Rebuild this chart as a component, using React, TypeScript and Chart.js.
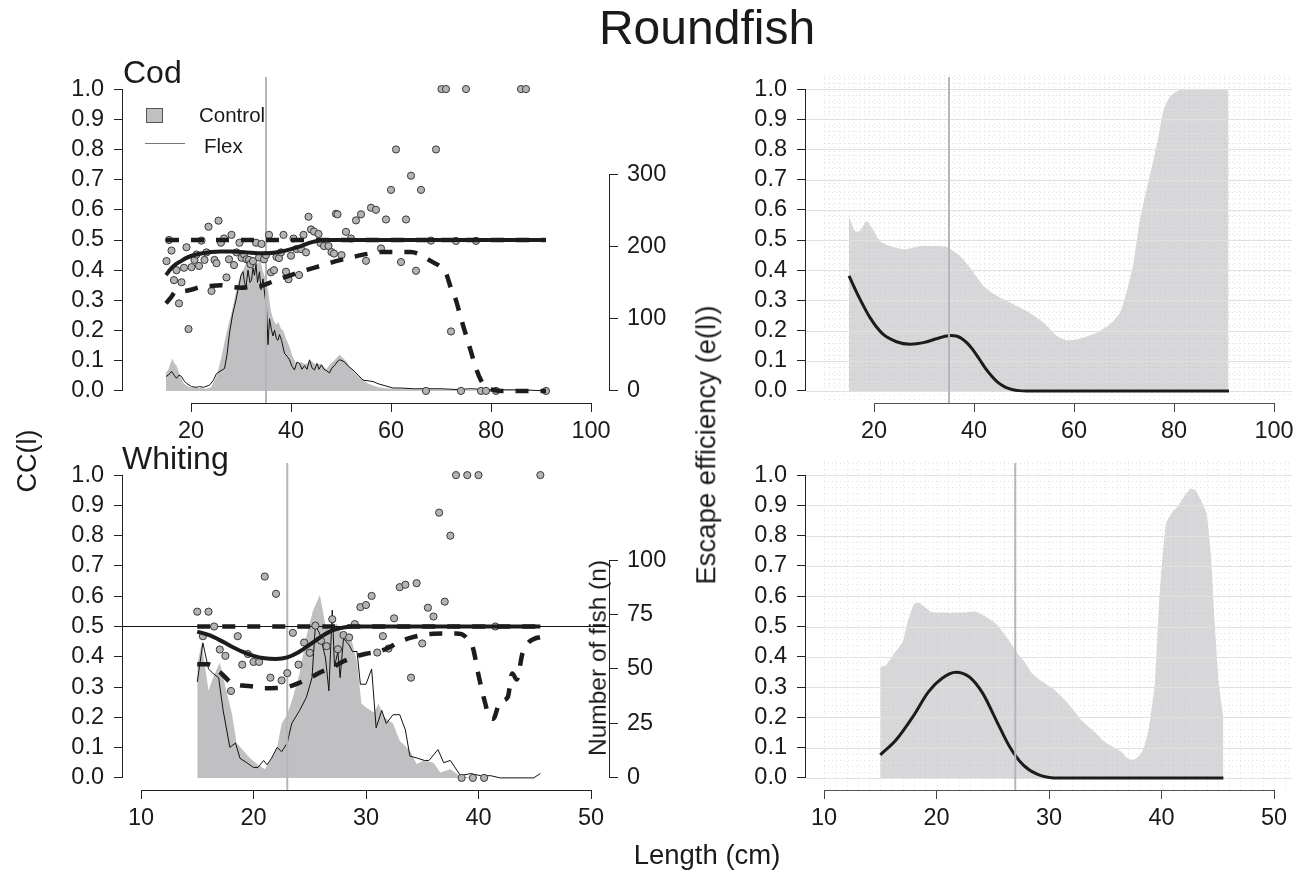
import React, { useEffect, useRef } from "react";
import { Chart, registerables } from "chart.js";

Chart.register(...registerables);

const W = 1303;
const H = 874;
const FONT = '"Liberation Sans", Arial, Helvetica, sans-serif';

// ---------- ticks & ranges ----------
const ccTicks = [0, 0.1, 0.2, 0.3, 0.4, 0.5, 0.6, 0.7, 0.8, 0.9, 1.0];
const codLenTicks = [20, 40, 60, 80, 100];
const whitingLenTicks = [10, 20, 30, 40, 50];
const codCountTicks = [0, 100, 200, 300];
const whitingCountTicks = [0, 25, 50, 75, 100];
const ccRange = [-0.04, 1.04];
const codLenRange = [6.4, 103.6];
const whitingLenRange = [8.4, 51.6];
const codCountPerCC = 417.5;
const whitingCountPerCC = 139;

// reference lines
const codRefLenLeft = 35;
const codRefLenRight = 35;
const whitingRefLenLeft = 23;
const whitingRefLenRight = 27;
const whitingRefCC = 0.5;

// ---------- Cod: numbers of fish ----------
const codControlLen = [15.0, 15.5, 16.0, 16.3, 16.7, 17.1, 17.6, 18.1, 18.6, 19.2, 19.8, 21, 22, 23, 24, 25.1, 26, 27.1, 27.8, 28.4, 28.9, 29.4, 29.9, 30.4, 30.9, 31.4, 31.9, 32.4, 32.9, 33.4, 33.9, 34.4, 34.9, 35.5, 36.0, 36.5, 37, 37.5, 38.0, 38.4, 39.0, 39.7, 40.3, 41, 42, 43, 44, 45, 46, 47, 48, 49, 49.7, 50.5, 51.2, 51.7, 52.5, 53.5, 54.4, 55.5, 56.5, 57.5, 58.4, 60, 65, 70, 75, 80, 85, 91];
const codControlN = [25, 30, 40, 45, 38, 35, 25, 17, 10, 7, 5, 4, 4, 3, 5, 20, 45, 80, 100, 117, 135, 149, 160, 167, 175, 186, 170, 172, 182, 176, 181, 165, 155, 135, 110, 98, 92, 95, 86, 84, 72, 61, 48, 38, 40, 37, 42, 36, 38, 30, 38, 45, 50, 45, 40, 34, 27, 20, 15, 10, 7, 5, 4, 3, 2, 2, 1, 1, 0.5, 0.5];
const codFlexLen = [15.0, 15.5, 16.1, 16.6, 17.1, 17.6, 18.1, 18.6, 19.1, 20.1, 21, 21.7, 22.5, 23.7, 24.5, 25.1, 26, 26.7, 27.2, 27.7, 28.3, 29.0, 29.4, 29.7, 30.0, 30.4, 30.7, 31.0, 31.4, 31.8, 32.1, 32.4, 32.7, 33.0, 33.3, 33.7, 34.0, 34.4, 34.8, 35.1, 35.4, 35.7, 36.1, 36.4, 36.7, 37.1, 37.4, 37.7, 38.1, 38.7, 39.2, 39.7, 40.2, 40.7, 41.2, 41.7, 42.2, 42.7, 43.2, 43.7, 44.2, 44.7, 45.2, 45.6, 46.1, 46.6, 47.1, 47.7, 48.2, 48.7, 49.2, 49.7, 50.2, 50.7, 51.5, 52.4, 53.4, 54.4, 55.4, 56.4, 57.4, 58.4, 59.4, 60.4, 62, 64.4, 67, 70, 73, 76, 79, 82, 85, 88, 91];
const codFlexN = [20, 22, 27, 22, 17.5, 22, 20, 14, 10.6, 6, 5, 6, 5, 8, 15, 24, 28, 31, 50, 80, 105, 126, 140, 149, 160, 165, 150, 144, 167, 150, 153, 170, 160, 175, 150, 165, 140, 155, 130, 117, 64, 100, 84, 76, 84, 72, 70, 78, 70, 52, 48, 43, 34, 29, 40, 38, 30, 35, 30, 43, 32, 29, 38, 30, 36, 30, 28, 25, 32, 35, 40, 43, 42, 40, 34, 29, 22, 15, 14, 13, 10, 8, 6, 4, 4, 3, 3, 3, 2, 3, 2, 1.5, 1.5, 1, 0];

// ---------- Cod: catch comparison ----------
const codObsLen = [15.1, 15.6, 16.1, 16.6, 17.1, 17.6, 18.1, 18.6, 19.1, 19.5, 20.1, 20.7, 21.1, 21.6, 22.1, 22.7, 23.1, 23.5, 24.1, 24.7, 25.1, 25.5, 26.0, 26.6, 27.1, 27.6, 28.1, 28.6, 29.1, 29.7, 30.1, 30.6, 31.1, 31.6, 31.9, 32.4, 33.0, 33.6, 34.1, 34.6, 35.0, 35.6, 36.0, 36.6, 37.1, 37.6, 38.0, 38.5, 39.0, 39.5, 40.0, 40.5, 41.1, 41.6, 42.0, 42.5, 43.0, 43.5, 44.0, 44.6, 45.5, 45.9, 46.6, 47.5, 48.1, 48.6, 49.0, 49.3, 50.1, 51.0, 52.0, 53.0, 54.0, 55.0, 56.0, 57.0, 58.0, 59.0, 60.0, 61.0, 62.0, 63.0, 64.0, 65.0, 66.0, 67.0, 68.0, 69.0, 70.1, 71.0, 72.0, 73.0, 74.0, 75.0, 77.0, 78.0, 79.0, 81.0, 86.0, 87.0, 91.0];
const codObsCC = [0.43, 0.5, 0.465, 0.367, 0.4, 0.29, 0.36, 0.408, 0.476, 0.205, 0.41, 0.434, 0.452, 0.414, 0.498, 0.434, 0.459, 0.544, 0.331, 0.434, 0.423, 0.564, 0.491, 0.505, 0.376, 0.436, 0.517, 0.417, 0.459, 0.491, 0.441, 0.452, 0.436, 0.434, 0.42, 0.43, 0.491, 0.442, 0.487, 0.436, 0.45, 0.517, 0.393, 0.4, 0.444, 0.44, 0.459, 0.517, 0.395, 0.37, 0.448, 0.505, 0.47, 0.384, 0.47, 0.517, 0.459, 0.577, 0.535, 0.528, 0.52, 0.49, 0.48, 0.48, 0.46, 0.455, 0.587, 0.585, 0.45, 0.527, 0.505, 0.565, 0.585, 0.431, 0.607, 0.6, 0.472, 0.568, 0.666, 0.8, 0.427, 0.568, 0.713, 0.398, 0.666, 0, 0.498, 0.8, 1, 1, 0.197, 0.497, 0, 1, 0.497, 0, 0, 0, 1, 1, 0];
const codFitLen = [15, 16, 17, 18, 19, 20, 22, 24, 26, 28, 30, 32, 34, 36, 38, 40, 42, 44, 46, 48, 50, 60, 70, 80, 91];
const codFitCC = [0.384, 0.405, 0.42, 0.43, 0.44, 0.447, 0.455, 0.46, 0.462, 0.462, 0.46, 0.458, 0.456, 0.457, 0.462, 0.47, 0.48, 0.492, 0.499, 0.5, 0.5, 0.5, 0.5, 0.5, 0.5];
const codUpperLen = [15, 91];
const codUpperCC = [0.5, 0.5];
const codLowerLen = [15, 16, 17, 18, 20, 22, 24, 26, 28, 30, 32, 34, 36, 38, 40, 42, 44, 46, 48, 50, 52, 54, 56, 58, 60, 62, 64, 66, 68, 70, 71, 72, 73, 74, 75, 76, 77, 78, 79, 80, 82, 91];
const codLowerCC = [0.29, 0.31, 0.33, 0.33, 0.335, 0.345, 0.348, 0.35, 0.345, 0.342, 0.345, 0.348, 0.36, 0.372, 0.384, 0.395, 0.405, 0.415, 0.425, 0.434, 0.442, 0.45, 0.456, 0.46, 0.46, 0.46, 0.46, 0.45, 0.43, 0.41, 0.39, 0.34, 0.3, 0.24, 0.185, 0.13, 0.075, 0.035, 0.012, 0.005, 0, 0];

// ---------- Cod: escape efficiency ----------
const codEffBandLen = [15.0, 16.2, 17.2, 18.5, 19.8, 21.2, 23.2, 26.2, 29.2, 31.9, 34.5, 37.2, 39.2, 41.9, 44.6, 47.2, 50.5, 53.9, 56.5, 58.5, 60.5, 61.9, 64.5, 67.2, 69.2, 70.5, 71.9, 73.2, 74.5, 75.9, 76.9, 77.9, 79.2, 80.9, 82.5, 90.9];
const codEffBandUpper = [0.579, 0.529, 0.53, 0.562, 0.535, 0.496, 0.48, 0.469, 0.48, 0.48, 0.477, 0.447, 0.408, 0.348, 0.315, 0.293, 0.265, 0.227, 0.183, 0.168, 0.17, 0.177, 0.193, 0.221, 0.26, 0.326, 0.425, 0.568, 0.667, 0.766, 0.843, 0.93, 0.975, 0.995, 1.0, 1.0];
const codEffLen = [15, 17.2, 19.2, 21.8, 24.5, 27.2, 29.9, 32.5, 34.2, 35.4, 36.6, 37.6, 38.6, 39.6, 40.6, 41.6, 42.6, 43.6, 44.6, 45.6, 46.6, 47.6, 49, 50.5, 60, 70, 80, 91];
const codEff = [0.381, 0.304, 0.243, 0.188, 0.163, 0.155, 0.16, 0.173, 0.181, 0.184, 0.181, 0.173, 0.159, 0.14, 0.117, 0.092, 0.068, 0.048, 0.031, 0.019, 0.01, 0.005, 0.001, 0, 0, 0, 0, 0];

// ---------- Whiting: numbers of fish ----------
const whitingControlLen = [15.0, 15.4, 16.0, 16.4, 17.0, 17.5, 18.1, 18.5, 19.0, 19.7, 20.4, 21.0, 21.5, 22.1, 22.5, 23.0, 23.5, 24.1, 24.7, 25.3, 25.9, 26.4, 27.0, 27.4, 28.0, 28.6, 29.2, 29.6, 30.1, 30.7, 31.1, 31.6, 32.4, 33.0, 33.9, 34.5, 35.1, 36.0, 36.6, 37.5, 38.4, 39.5, 40.3];
const whitingControlN = [52, 62, 40, 46, 53, 42, 29, 16, 13, 9, 6, 4, 8, 14, 25, 29, 37, 48, 65, 77, 84, 70, 66, 71, 64, 66, 53, 34, 32, 30, 34, 28, 25, 17, 12.5, 6.4, 8, 7, 2.5, 4, 0.5, 0.3, 0];
const whitingFlexLen = [15.0, 15.5, 16.0, 16.4, 16.9, 17.3, 17.9, 18.4, 18.8, 19.4, 20.0, 20.4, 20.9, 21.2, 21.6, 22.1, 22.5, 23.0, 23.4, 24.1, 24.7, 25.2, 25.5, 25.9, 26.4, 26.7, 27.0, 27.2, 27.5, 27.7, 28.0, 28.5, 28.8, 29.2, 29.5, 30.0, 30.5, 30.9, 31.4, 31.8, 32.4, 33.0, 33.5, 33.9, 34.6, 35.2, 35.6, 36.4, 36.9, 37.5, 38.4, 39.3, 40.2, 41.1, 41.9, 44.9, 45.5];
const whitingFlexN = [44, 62, 50, 48, 46, 31, 14, 16, 9, 7, 4.8, 4.8, 8, 6, 9, 14, 12, 16, 25, 31, 37, 46, 70, 66, 55, 40, 77, 51, 58, 46, 64, 61, 58, 58, 43, 43, 50, 23, 31, 25, 29, 29, 22, 10, 9, 8, 8, 13, 7, 8, 1, 2, 1, 1, 0, 0, 2];

// ---------- Whiting: catch comparison ----------
const whitingObsLen = [15.0, 15.5, 16.0, 16.5, 17.0, 17.5, 18.0, 18.6, 19.0, 19.5, 20.0, 20.5, 21.0, 21.5, 22.0, 22.5, 23.0, 23.5, 24.0, 24.5, 25.0, 25.5, 26.0, 26.5, 27.0, 27.5, 28.0, 28.5, 29.0, 29.5, 30.0, 30.5, 31.0, 31.5, 32.0, 32.5, 33.0, 33.5, 34.0, 34.5, 35.0, 35.5, 36.0, 36.5, 37.0, 37.5, 38.0, 38.5, 39.0, 39.5, 40.0, 40.5, 41.5, 45.5];
const whitingObsCC = [0.549, 0.468, 0.549, 0.5, 0.424, 0.403, 0.287, 0.468, 0.374, 0.409, 0.383, 0.383, 0.665, 0.331, 0.608, 0.322, 0.346, 0.479, 0.374, 0.447, 0.413, 0.503, 0.453, 0.435, 0.524, 0.425, 0.472, 0.464, 0.508, 0.564, 0.571, 0.601, 0.414, 0.468, 0.427, 0.527, 0.63, 0.638, 0.331, 0.643, 0.444, 0.562, 0.533, 0.876, 0.582, 0.8, 1, 0, 1, 0, 1, 0, 0.5, 1];
const whitingFitLen = [15, 16, 17, 18, 19, 20, 21, 22, 23, 24, 25, 26, 27, 28, 29, 30, 35, 40, 45.5];
const whitingFitCC = [0.483, 0.472, 0.455, 0.435, 0.417, 0.403, 0.395, 0.393, 0.398, 0.415, 0.44, 0.466, 0.487, 0.497, 0.5, 0.5, 0.5, 0.5, 0.5];
const whitingUpperLen = [15, 45.5];
const whitingUpperCC = [0.5, 0.5];
const whitingLowerLen = [15, 16, 17, 18, 19, 20, 21, 22, 23, 24, 25, 26, 27, 28, 29, 30, 31, 32, 33, 34, 35, 36, 37, 38, 38.5, 39, 39.5, 40, 40.5, 41, 41.3, 41.9, 42.6, 43.0, 43.4, 43.9, 44.4, 45.0, 45.5];
const whitingLowerCC = [0.375, 0.375, 0.35, 0.315, 0.305, 0.302, 0.296, 0.297, 0.3, 0.313, 0.33, 0.35, 0.365, 0.385, 0.4, 0.41, 0.416, 0.43, 0.45, 0.463, 0.472, 0.476, 0.477, 0.477, 0.475, 0.46, 0.43, 0.34, 0.26, 0.2, 0.195, 0.25, 0.267, 0.345, 0.325, 0.41, 0.445, 0.46, 0.465];

// ---------- Whiting: escape efficiency ----------
const whitingEffBandLen = [15.0, 15.5, 16.2, 17.0, 17.4, 18.0, 18.5, 19.5, 20.2, 22.3, 23.5, 24.4, 25.4, 26.2, 27.1, 27.8, 28.5, 29.4, 30.5, 31.8, 33.0, 34.2, 34.9, 35.7, 36.4, 37.0, 37.5, 38.1, 38.5, 38.9, 39.4, 39.8, 40.4, 41.0, 41.4, 42.1, 42.6, 43.0, 43.5, 44.0, 44.4, 44.7, 45.1, 45.5];
const whitingEffBandUpper = [0.367, 0.372, 0.41, 0.45, 0.51, 0.574, 0.578, 0.549, 0.546, 0.546, 0.549, 0.532, 0.505, 0.466, 0.417, 0.384, 0.345, 0.318, 0.29, 0.241, 0.186, 0.147, 0.12, 0.103, 0.087, 0.064, 0.06, 0.076, 0.108, 0.169, 0.31, 0.587, 0.84, 0.879, 0.895, 0.934, 0.956, 0.95, 0.917, 0.874, 0.73, 0.532, 0.31, 0.2];
const whitingEffLen = [15, 16.4, 17.9, 19.3, 20.5, 21.7, 22.9, 24.1, 25.3, 26.5, 27.7, 28.9, 30.4, 35, 40, 45.5];
const whitingEff = [0.076, 0.125, 0.202, 0.285, 0.329, 0.349, 0.334, 0.28, 0.191, 0.103, 0.043, 0.013, 0, 0, 0, 0];

// ---------- helpers ----------
type Area = { left: number; right: number; top: number; bottom: number };
const AREA_TL: Area = { left: 123, right: 609, top: 77, bottom: 403 };
const AREA_TR: Area = { left: 806, right: 1292, top: 77, bottom: 403 };
const AREA_BL: Area = { left: 123, right: 609, top: 463, bottom: 790 };
const AREA_BR: Area = { left: 806, right: 1292, top: 463, bottom: 790 };

const pts = (xs: number[], ys: number[]) => xs.map((x, i) => ({ x, y: ys[i] }));
const tickFont = { family: FONT, size: 23.5 };
const TEXT = "#1a1a1a";

const rAxesPlugin = {
  id: "rAxes",
  afterDraw(chart: any, _a: any, opts: any) {
    const ids: string[] = opts.ids || [];
    const ctx = chart.ctx;
    ids.forEach((id) => {
      const s = chart.scales[id];
      if (!s || !s.ticks.length) return;
      const a = s.getPixelForValue(s.ticks[0].value);
      const b = s.getPixelForValue(s.ticks[s.ticks.length - 1].value);
      ctx.save();
      ctx.strokeStyle = s.isHorizontal() ? opts.xColor : opts.yColor;
      ctx.lineWidth = 1;
      ctx.beginPath();
      if (s.isHorizontal()) {
        const y = Math.round(s.top) + 0.5;
        ctx.moveTo(a, y);
        ctx.lineTo(b, y);
      } else {
        const x = s.position === "left" ? Math.round(s.right) - 0.5 : Math.round(s.left) + 0.5;
        ctx.moveTo(x, a);
        ctx.lineTo(x, b);
      }
      ctx.stroke();
      ctx.restore();
    });
  },
};

const rGridPlugin = {
  id: "rGrid",
  afterDatasetDraw(chart: any, args: any, opts: any) {
    if (!opts || !opts.enabled || args.index !== opts.afterIndex) return;
    const { ctx, chartArea: ca } = chart;
    const x = chart.scales.x;
    const y = chart.scales.y;
    ctx.save();
    ctx.lineWidth = 1;
    ctx.strokeStyle = "rgba(190,190,190,0.45)";
    ctx.setLineDash([1, 3]);
    const x0 = x.getPixelForValue(opts.xFrom);
    for (let v = opts.xFrom; v <= x.max + 1e-9; v += opts.xStep) {
      const px = Math.round(x.getPixelForValue(v)) + 0.5;
      ctx.beginPath();
      ctx.moveTo(px, ca.top - 2);
      ctx.lineTo(px, ca.bottom);
      ctx.stroke();
    }
    for (let k = 0; k * opts.yMinor <= y.max + 1e-9; k++) {
      const py = Math.round(y.getPixelForValue(k * opts.yMinor)) + 0.5;
      ctx.beginPath();
      ctx.moveTo(x0, py);
      ctx.lineTo(ca.right, py);
      ctx.stroke();
    }
    ctx.setLineDash([]);
    ctx.strokeStyle = "#e0e0e0";
    for (let k = 0; k * opts.yMajor <= 1 + 1e-9; k++) {
      const py = Math.round(y.getPixelForValue(k * opts.yMajor)) + 0.5;
      ctx.beginPath();
      ctx.moveTo(ca.left, py);
      ctx.lineTo(ca.right, py);
      ctx.stroke();
    }
    ctx.restore();
  },
};

function xScale(area: Area, range: number[], ticks: number[], color: string) {
  return {
    type: "linear",
    position: "bottom",
    min: range[0],
    max: range[1],
    afterBuildTicks: (s: any) => {
      s.ticks = ticks.map((v) => ({ value: v }));
    },
    afterFit: (s: any) => {
      s.height = H - area.bottom;
    },
    grid: { drawOnChartArea: false, drawTicks: true, tickLength: 9, color, lineWidth: 1 },
    border: { display: false },
    ticks: { font: tickFont, color: TEXT, padding: 5, maxRotation: 0, autoSkip: false, callback: (v: any) => String(v) },
  };
}

function yScale(area: Area) {
  return {
    type: "linear",
    position: "left",
    min: ccRange[0],
    max: ccRange[1],
    afterBuildTicks: (s: any) => {
      s.ticks = ccTicks.map((v) => ({ value: v }));
    },
    afterFit: (s: any) => {
      s.width = area.left;
    },
    grid: { drawOnChartArea: false, drawTicks: true, tickLength: 9, color: "#222", lineWidth: 1 },
    border: { display: false },
    ticks: { font: tickFont, color: TEXT, padding: 10, autoSkip: false, callback: (v: any) => Number(v).toFixed(1) },
  };
}

function y2Scale(area: Area, perCC: number, ticks: number[]) {
  return {
    type: "linear",
    position: "right",
    min: ccRange[0] * perCC,
    max: ccRange[1] * perCC,
    afterBuildTicks: (s: any) => {
      s.ticks = ticks.map((v) => ({ value: v }));
    },
    afterFit: (s: any) => {
      s.width = W - area.right;
    },
    grid: { drawOnChartArea: false, drawTicks: true, tickLength: 9, color: "#222", lineWidth: 1 },
    border: { display: false },
    ticks: { font: tickFont, color: TEXT, padding: 9, autoSkip: false, callback: (v: any) => String(v) },
  };
}

type CCPanel = {
  area: Area;
  lenRange: number[];
  lenTicks: number[];
  perCC: number;
  countTicks: number[];
  controlLen: number[];
  controlN: number[];
  flexLen: number[];
  flexN: number[];
  obsLen: number[];
  obsCC: number[];
  fitLen: number[];
  fitCC: number[];
  upLen: number[];
  upCC: number[];
  loLen: number[];
  loCC: number[];
  refLen: number;
  refCC?: number;
};

function ccConfig(p: CCPanel): any {
  const datasets: any[] = [
    {
      label: "fit",
      data: pts(p.fitLen, p.fitCC),
      borderColor: "#1c1c1c",
      borderWidth: 4,
      pointRadius: 0,
      cubicInterpolationMode: "monotone",
      fill: false,
    },
    {
      label: "upper",
      data: pts(p.upLen, p.upCC),
      borderColor: "#1c1c1c",
      borderWidth: 4.5,
      borderDash: [13, 12],
      pointRadius: 0,
      fill: false,
    },
    {
      label: "lower",
      data: pts(p.loLen, p.loCC),
      borderColor: "#1c1c1c",
      borderWidth: 4.5,
      borderDash: [13, 12],
      pointRadius: 0,
      cubicInterpolationMode: "monotone",
      fill: false,
    },
    {
      label: "obs",
      data: pts(p.obsLen, p.obsCC),
      showLine: false,
      pointRadius: 3.6,
      pointBackgroundColor: "#b3b3b3",
      pointBorderColor: "#3a3a3a",
      pointBorderWidth: 1,
      fill: false,
    },
  ];
  if (p.refCC !== undefined) {
    datasets.push({
      label: "ref h",
      data: pts(p.lenRange, [p.refCC, p.refCC]),
      borderColor: "#111",
      borderWidth: 1,
      pointRadius: 0,
      fill: false,
    });
  }
  datasets.push(
    {
      label: "ref v",
      data: pts([p.refLen, p.refLen], ccRange),
      borderColor: "#b6b6ba",
      borderWidth: 2,
      pointRadius: 0,
      fill: false,
    },
    {
      label: "Flex",
      data: pts(p.flexLen, p.flexN),
      yAxisID: "y2",
      borderColor: "#111",
      borderWidth: 1,
      pointRadius: 0,
      tension: 0,
      fill: false,
    },
    {
      label: "Control",
      data: pts(p.controlLen, p.controlN),
      yAxisID: "y2",
      borderColor: "rgba(0,0,0,0)",
      borderWidth: 0,
      backgroundColor: "#c0c0c2",
      pointRadius: 0,
      tension: 0,
      fill: "origin",
    }
  );
  return {
    type: "line",
    data: { datasets },
    options: {
      responsive: false,
      animation: false,
      devicePixelRatio: 1,
      events: [],
      layout: { padding: { top: p.area.top, left: 0, right: 0, bottom: 0 } },
      scales: {
        x: xScale(p.area, p.lenRange, p.lenTicks, "#222"),
        y: yScale(p.area),
        y2: y2Scale(p.area, p.perCC, p.countTicks),
      },
      plugins: {
        legend: { display: false },
        tooltip: { enabled: false },
        rAxes: { ids: ["x", "y", "y2"], xColor: "#222", yColor: "#222" },
        rGrid: { enabled: false },
      },
    },
    plugins: [rAxesPlugin, rGridPlugin],
  };
}

type EffPanel = {
  area: Area;
  lenRange: number[];
  lenTicks: number[];
  bandLen: number[];
  bandUpper: number[];
  effLen: number[];
  eff: number[];
  refLen: number;
};

function effConfig(p: EffPanel): any {
  const datasets: any[] = [
    {
      label: "ref v",
      data: pts([p.refLen, p.refLen], ccRange),
      borderColor: "#b6b6ba",
      borderWidth: 2,
      pointRadius: 0,
      fill: false,
    },
    {
      label: "e(l)",
      data: pts(p.effLen, p.eff),
      borderColor: "#1c1c1c",
      borderWidth: 3,
      pointRadius: 0,
      cubicInterpolationMode: "monotone",
      fill: false,
    },
    {
      label: "CI",
      data: pts(p.bandLen, p.bandUpper),
      borderColor: "rgba(0,0,0,0)",
      borderWidth: 0,
      backgroundColor: "#d8d8da",
      pointRadius: 0,
      tension: 0.2,
      fill: "origin",
    },
  ];
  return {
    type: "line",
    data: { datasets },
    options: {
      responsive: false,
      animation: false,
      devicePixelRatio: 1,
      events: [],
      layout: { padding: { top: p.area.top, left: 0, right: W - p.area.right, bottom: 0 } },
      scales: {
        x: xScale(p.area, p.lenRange, p.lenTicks, "#444"),
        y: yScale(p.area),
      },
      plugins: {
        legend: { display: false },
        tooltip: { enabled: false },
        rAxes: { ids: ["x", "y"], xColor: "#555", yColor: "#222" },
        rGrid: { enabled: true, afterIndex: 2, xFrom: 10, xStep: 1, yMinor: 0.02, yMajor: 0.1 },
      },
    },
    plugins: [rAxesPlugin, rGridPlugin],
  };
}

function ChartCanvas({ config }: { config: any }) {
  const ref = useRef<HTMLCanvasElement | null>(null);
  useEffect(() => {
    if (!ref.current) return;
    const chart = new Chart(ref.current, config);
    return () => chart.destroy();
  }, [config]);
  return (
    <canvas
      ref={ref}
      width={W}
      height={H}
      style={{ position: "absolute", left: 0, top: 0, width: W, height: H }}
    />
  );
}

function Label({
  text,
  x,
  y,
  size,
  rotate = false,
  align = "center",
}: {
  text: string;
  x: number;
  y: number;
  size: number;
  rotate?: boolean;
  align?: "center" | "left";
}) {
  const tx = align === "left" ? "0" : "-50%";
  return (
    <div
      style={{
        position: "absolute",
        left: x,
        top: y,
        fontFamily: FONT,
        fontSize: size,
        lineHeight: 1,
        color: TEXT,
        whiteSpace: "nowrap",
        transform: `translate(${tx}, -50%)${rotate ? " rotate(-90deg)" : ""}`,
        transformOrigin: rotate ? "center center" : undefined,
      }}
    >
      {text}
    </div>
  );
}

const cfgTL = ccConfig({
  area: AREA_TL,
  lenRange: codLenRange,
  lenTicks: codLenTicks,
  perCC: codCountPerCC,
  countTicks: codCountTicks,
  controlLen: codControlLen,
  controlN: codControlN,
  flexLen: codFlexLen,
  flexN: codFlexN,
  obsLen: codObsLen,
  obsCC: codObsCC,
  fitLen: codFitLen,
  fitCC: codFitCC,
  upLen: codUpperLen,
  upCC: codUpperCC,
  loLen: codLowerLen,
  loCC: codLowerCC,
  refLen: codRefLenLeft,
});

const cfgBL = ccConfig({
  area: AREA_BL,
  lenRange: whitingLenRange,
  lenTicks: whitingLenTicks,
  perCC: whitingCountPerCC,
  countTicks: whitingCountTicks,
  controlLen: whitingControlLen,
  controlN: whitingControlN,
  flexLen: whitingFlexLen,
  flexN: whitingFlexN,
  obsLen: whitingObsLen,
  obsCC: whitingObsCC,
  fitLen: whitingFitLen,
  fitCC: whitingFitCC,
  upLen: whitingUpperLen,
  upCC: whitingUpperCC,
  loLen: whitingLowerLen,
  loCC: whitingLowerCC,
  refLen: whitingRefLenLeft,
  refCC: whitingRefCC,
});

const cfgTR = effConfig({
  area: AREA_TR,
  lenRange: codLenRange,
  lenTicks: codLenTicks,
  bandLen: codEffBandLen,
  bandUpper: codEffBandUpper,
  effLen: codEffLen,
  eff: codEff,
  refLen: codRefLenRight,
});

const cfgBR = effConfig({
  area: AREA_BR,
  lenRange: whitingLenRange,
  lenTicks: whitingLenTicks,
  bandLen: whitingEffBandLen,
  bandUpper: whitingEffBandUpper,
  effLen: whitingEffLen,
  eff: whitingEff,
  refLen: whitingRefLenRight,
});

export default function App() {
  return (
    <div
      style={{
        position: "absolute",
        left: 0,
        top: 0,
        width: W,
        height: H,
        background: "#fff",
        overflow: "hidden",
      }}
    >
      <ChartCanvas config={cfgTL} />
      <ChartCanvas config={cfgTR} />
      <ChartCanvas config={cfgBL} />
      <ChartCanvas config={cfgBR} />

      <Label text="Roundfish" x={707} y={28} size={48} />
      <Label text="CC(l)" x={27} y={461} size={27} rotate />
      <Label text="Escape efficiency (e(l))" x={706} y={445} size={27.5} rotate />
      <Label text="Length (cm)" x={707} y={855} size={27.5} />
      <Label text="Number of fish (n)" x={598} y={658} size={24.5} rotate />
      <Label text="Cod" x={123} y={72} size={32} align="left" />
      <Label text="Whiting" x={122} y={458} size={32} align="left" />

      {/* legend */}
      <div
        style={{
          position: "absolute",
          left: 146,
          top: 108,
          width: 15,
          height: 13,
          background: "#c0c0c2",
          border: "1px solid #555",
        }}
      />
      <Label text="Control" x={199} y={115} size={20.5} align="left" />
      <div
        style={{
          position: "absolute",
          left: 145,
          top: 143,
          width: 40,
          height: 0,
          borderTop: "1.5px solid #777",
        }}
      />
      <Label text="Flex" x={204} y={146} size={20.5} align="left" />
    </div>
  );
}
